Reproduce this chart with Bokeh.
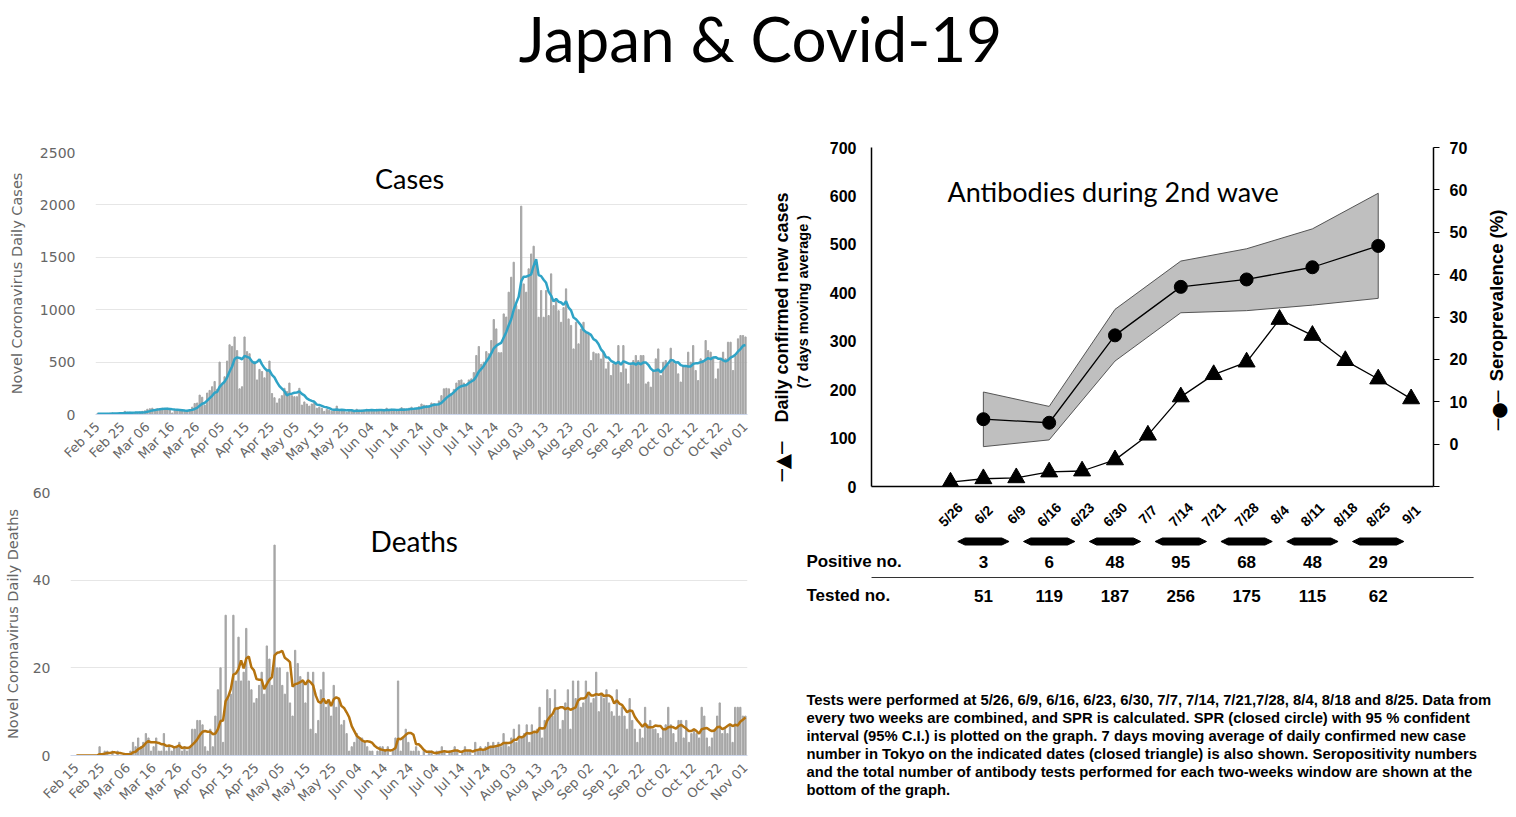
import math
import pandas as pd
from bokeh.plotting import figure
from bokeh.models import Range1d, LinearAxis, FixedTicker, Label
from bokeh.layouts import column, row
from bokeh.embed import file_html
from bokeh.resources import INLINE
from bokeh.core.properties import value

# ---------------- data ----------------
case_tick_labels = ["Feb 15", "Feb 25", "Mar 06", "Mar 16", "Mar 26", "Apr 05", "Apr 15",
                    "Apr 25", "May 05", "May 15", "May 25", "Jun 04", "Jun 14", "Jun 24",
                    "Jul 04", "Jul 14", "Jul 24", "Aug 03", "Aug 13", "Aug 23", "Sep 02",
                    "Sep 12", "Sep 22", "Oct 02", "Oct 12", "Oct 22", "Nov 01"]

daily_cases = [
    8, 5, 6, 8, 10, 12, 14, 10, 12, 15, 14, 30, 20, 22, 12,
    14, 18, 25, 30, 35, 50, 55, 60, 40, 55, 55, 60, 55, 60, 50,
    15, 40, 45, 40, 35, 40, 35, 45, 70, 105, 110, 185, 165, 90, 205, 230,
    265, 315, 240, 500, 280, 360, 510, 665, 650, 740, 610, 245, 265, 740, 600, 580,
    500, 500, 330, 430, 410, 350, 420, 510, 200, 160, 110, 150, 180, 250, 220,
    300, 180, 170, 170, 250, 90, 120, 100, 80, 100, 110, 60, 70, 60, 30,
    50, 40, 30, 40, 80, 30, 40, 35, 21, 40, 35, 30, 50, 40, 40,
    35, 50, 45, 40, 30, 50, 45, 35, 45, 60, 40, 50, 40, 30, 45,
    65, 55, 50, 60, 70, 40, 60, 75, 100, 90, 85, 80, 110, 105, 90,
    130, 180, 245, 250, 245, 200, 240, 300, 324, 330, 300, 280, 330, 340, 400,
    563, 649, 480, 500, 600, 580, 706, 906, 817, 590, 590, 960, 930, 1167, 1310,
    1453, 1040, 1000, 1988, 1246, 1167, 1390, 1532, 1606, 1437, 928, 1183, 928, 1183, 944,
    1342, 1040, 1103, 990, 880, 1020, 1199, 912, 850, 626, 880, 674, 815, 880, 785,
    769, 515, 595, 580, 580, 530, 595, 435, 500, 372, 483, 483, 658, 400, 658,
    435, 292, 470, 515, 563, 515, 563, 563, 292, 310, 261, 420, 531, 626, 372,
    499, 515, 467, 633, 499, 483, 388, 310, 467, 467, 595, 499, 658, 420, 324,
    531, 515, 706, 610, 595, 531, 340, 435, 515, 595, 531, 690, 690, 420, 563,
    722, 754, 754, 740]

daily_deaths = [
    0, 0, 0, 0, 0, 0, 0, 0, 0, 2, 0, 1, 1, 0, 1,
    0, 1, 0, 0, 0, 0, 1, 3, 2, 4, 2, 3, 5, 4, 1,
    2, 4, 1, 1, 5, 1, 2, 1, 2, 2, 3, 1, 2, 1, 2,
    6, 6, 8, 8, 7, 2, 1, 6, 2, 9, 15, 20, 3, 32, 13,
    14, 32, 17, 27, 17, 19, 29, 17, 15, 12, 13, 16, 19, 14, 25,
    22, 16, 48, 20, 20, 16, 14, 19, 12, 9, 24, 21, 18, 17, 12,
    19, 6, 19, 5, 8, 15, 19, 11, 12, 9, 16, 11, 13, 7, 8,
    5, 1, 2, 3, 5, 4, 4, 3, 2, 1, 1, 0, 1, 2, 2,
    1, 2, 0, 1, 4, 17, 1, 4, 6, 3, 1, 1, 2, 1, 0,
    1, 0, 1, 1, 0, 1, 1, 2, 1, 0, 1, 1, 2, 1, 0,
    1, 2, 1, 1, 0, 3, 1, 2, 1, 2, 3, 2, 3, 2, 3,
    2, 5, 3, 2, 4, 6, 3, 7, 4, 5, 7, 3, 7, 5, 6,
    11, 4, 8, 15, 13, 9, 15, 11, 6, 8, 12, 15, 6, 17, 13,
    17, 11, 12, 17, 14, 12, 13, 19, 10, 14, 13, 15, 12, 10, 9,
    15, 9, 11, 9, 6, 13, 8, 6, 3, 6, 4, 11, 7, 8, 6,
    6, 5, 4, 6, 7, 11, 7, 5, 3, 8, 8, 4, 8, 3, 5,
    6, 5, 4, 11, 9, 4, 2, 4, 6, 9, 12, 5, 6, 5, 7,
    3, 11, 11, 11, 9, 9]

ab_dates = ["5/26", "6/2", "6/9", "6/16", "6/23", "6/30", "7/7", "7/14", "7/21",
            "7/28", "8/4", "8/11", "8/18", "8/25", "9/1"]
tokyo_new_cases_ma = [9, 16, 18, 30, 32, 55, 106, 185, 231, 257, 345, 312, 260, 222, 181]
window_dates = ["6/2", "6/16", "6/30", "7/14", "7/28", "8/11", "8/25"]
positive_no = [3, 6, 48, 95, 68, 48, 29]
tested_no = [51, 119, 187, 256, 175, 115, 62]
ci_upper = [12.3, 8.9, 31.8, 43.2, 46.1, 50.8, 59.2]
ci_lower = [-0.6, 1.0, 19.6, 31.0, 31.5, 32.8, 34.4]

note_lines = [
    "Tests were performed at 5/26, 6/9, 6/16, 6/23, 6/30, 7/7, 7/14, 7/21,7/28, 8/4, 8/18 and 8/25.  Data from",
    "every two weeks are combined, and SPR is calculated. SPR (closed circle) with 95 % confident",
    "interval (95% C.I.) is plotted on the graph. 7 days moving average of daily confirmed new case",
    "number in Tokyo on the indicated dates (closed triangle) is also shown. Seropositivity numbers",
    "and the total number of antibody tests performed for each two-weeks window are shown at the",
    "bottom of the graph.",
]

# ---------------- derived ----------------
days = list(range(len(daily_cases)))
cases_ma = pd.Series(daily_cases).rolling(7, min_periods=1).mean().tolist()
deaths_ma = pd.Series(daily_deaths).rolling(7, min_periods=1).mean().tolist()
tick_pos = [10 * i for i in range(len(case_tick_labels))]
spr = [100.0 * a / b for a, b in zip(positive_no, tested_no)]
ab_x = list(range(len(ab_dates)))
win_x = [ab_dates.index(d) for d in window_dates]

HC_FONT = "DejaVu Sans"
SLIDE_FONT = "Lato"
ARIAL = "Liberation Sans"
GREY = "#666666"


def bare(p):
    p.axis.visible = False
    p.grid.visible = False
    p.outline_line_color = None


def hc_style(p, yticks, ylabel, label_standoff):
    p.outline_line_color = None
    p.xgrid.grid_line_color = None
    p.ygrid.grid_line_color = "#e6e6e6"
    p.yaxis.ticker = FixedTicker(ticks=yticks)
    p.yaxis.axis_line_color = None
    p.yaxis.major_tick_line_color = None
    p.yaxis.major_tick_out = 0
    p.yaxis.major_tick_in = 0
    p.yaxis.minor_tick_line_color = None
    p.yaxis.major_label_standoff = 20
    p.yaxis.major_label_text_font = HC_FONT
    p.yaxis.major_label_text_font_size = "14px"
    p.yaxis.major_label_text_color = GREY
    p.yaxis.axis_label = ylabel
    p.yaxis.axis_label_text_font = HC_FONT
    p.yaxis.axis_label_text_font_style = "normal"
    p.yaxis.axis_label_text_font_size = "14.5px"
    p.yaxis.axis_label_text_color = GREY
    p.yaxis.axis_label_standoff = label_standoff
    p.xaxis.ticker = FixedTicker(ticks=tick_pos)
    p.xaxis.major_label_overrides = {t: l for t, l in zip(tick_pos, case_tick_labels)}
    p.xaxis.major_label_orientation = math.pi / 4
    p.xaxis.major_label_text_font = HC_FONT
    p.xaxis.major_label_text_font_size = "13px"
    p.xaxis.major_label_text_color = GREY
    p.xaxis.major_label_standoff = 4
    p.xaxis.axis_line_color = "#ccd6eb"
    p.xaxis.major_tick_line_color = None
    p.xaxis.minor_tick_line_color = None


common = dict(output_backend="svg", toolbar_location=None, frame_align=False)

# ---------------- title ----------------
tp = figure(width=1512, height=128, x_range=Range1d(0, 1512), y_range=Range1d(128, 0),
            min_border=0, **common)
bare(tp)
tp.text(x=[760], y=[37], text=["Japan & Covid-19"], text_font=value(SLIDE_FONT),
        text_font_size="62px", text_align="center", text_baseline="middle", text_color="black")

# ---------------- cases ----------------
pc = figure(width=760, height=348, x_range=Range1d(-0.8, 260.8), y_range=Range1d(0, 2500),
            min_border_left=95, min_border_right=13, min_border_top=24, min_border_bottom=62,
            **common)
hc_style(pc, [0, 500, 1000, 1500, 2000, 2500], "Novel Coronavirus Daily Cases", 12)
pc.vbar(x=days, top=daily_cases, width=0.5, color="#a6a6a6")
pc.line(days, cases_ma, color="#2fa3c6", line_width=2.5)
pc.add_layout(Label(x=125.2, y=2252, text="Cases", text_font=SLIDE_FONT, text_font_size="27px",
                    text_align="center", text_baseline="middle", text_color="black"))

# ---------------- deaths ----------------
pd_ = figure(width=760, height=336, x_range=Range1d(-2.3, 260.8), y_range=Range1d(0, 60),
             min_border_left=70, min_border_right=13, min_border_top=16, min_border_bottom=55,
             **common)
hc_style(pd_, [0, 20, 40, 60], "Novel Coronavirus Daily Deaths", 9)
pd_.vbar(x=days, top=daily_deaths, width=0.5, color="#a6a6a6")
pd_.line(days, deaths_ma, color="#b5730f", line_width=2.5)
pd_.add_layout(Label(x=131.3, y=48.9, text="Deaths", text_font=SLIDE_FONT, text_font_size="28px",
                     text_align="center", text_baseline="middle", text_color="black"))

# ---------------- antibodies: left label strip ----------------
sl = figure(width=55, height=368, x_range=Range1d(760, 815), y_range=Range1d(496, 128),
            min_border=0, **common)
bare(sl)
sl.text(x=[781], y=[307], text=["Daily confirmed new cases"], angle=math.pi / 2,
        text_font=value(ARIAL), text_font_style="bold", text_font_size="18px",
        text_align="center", text_baseline="middle", text_color="black")
sl.text(x=[802], y=[299], text=["(7 days moving  average )"], angle=math.pi / 2,
        text_font=value(ARIAL), text_font_style="bold", text_font_size="14.5px",
        text_align="center", text_baseline="middle", text_color="black")
sl.text(x=[781], y=[461], text=["\u2500\u25b2\u2500"], angle=math.pi / 2,
        text_font=value("DejaVu Sans"), text_font_size="20px",
        text_align="center", text_baseline="middle", text_color="black")

# ---------------- antibodies: chart ----------------
pa = figure(width=665, height=368, x_range=Range1d(-2.4, 14.68), y_range=Range1d(0, 700),
            min_border_left=56, min_border_right=47, min_border_top=19, min_border_bottom=10,
            **common)
pa.extra_y_ranges = {"spr": Range1d(-10, 70)}
pa.outline_line_color = None
pa.grid.visible = False
pa.yaxis.ticker = FixedTicker(ticks=list(range(0, 701, 100)))
pa.yaxis.axis_line_color = "black"
pa.yaxis.axis_line_width = 1.5
pa.yaxis.major_tick_line_color = None
pa.yaxis.major_tick_out = 0
pa.yaxis.major_tick_in = 0
pa.yaxis.minor_tick_line_color = None
pa.yaxis.major_label_standoff = 15
pa.yaxis.major_label_text_font = ARIAL
pa.yaxis.major_label_text_font_style = "bold"
pa.yaxis.major_label_text_font_size = "16px"
pa.yaxis.major_label_text_color = "black"
pa.xaxis.ticker = FixedTicker(ticks=[])
pa.xaxis.axis_line_color = "black"
pa.xaxis.axis_line_width = 1.5
pa.xaxis.major_tick_line_color = None
pa.xaxis.minor_tick_line_color = None
pa.xaxis.major_label_text_font_size = "0px"

ax_r = LinearAxis(y_range_name="spr", ticker=FixedTicker(ticks=list(range(-10, 71, 10))),
                  major_label_overrides={-10: ""})
ax_r.axis_line_color = "black"
ax_r.axis_line_width = 1.5
ax_r.major_tick_line_color = "black"
ax_r.major_tick_out = 6
ax_r.major_tick_in = 0
ax_r.minor_tick_line_color = None
ax_r.major_label_standoff = 10
ax_r.major_label_text_font = ARIAL
ax_r.major_label_text_font_style = "bold"
ax_r.major_label_text_font_size = "16px"
ax_r.major_label_text_color = "black"
pa.add_layout(ax_r, "right")

pa.patch(win_x + win_x[::-1], ci_upper + ci_lower[::-1], y_range_name="spr",
         fill_color="#bfbfbf", line_color="#555555", line_width=1)
pa.line(win_x, spr, y_range_name="spr", color="black", line_width=1.3)
pa.scatter(win_x, spr, y_range_name="spr", marker="circle", size=13, color="black")
pa.line(ab_x, tokyo_new_cases_ma, color="black", line_width=1.3)
pa.scatter(ab_x, tokyo_new_cases_ma, marker="triangle", size=17, color="black")
pa.add_layout(Label(x=4.95, y=609, text="Antibodies during 2nd wave", text_font=SLIDE_FONT,
                    text_font_size="27px", text_align="center", text_baseline="middle",
                    text_color="black"))

# ---------------- antibodies: right label strip ----------------
sr = figure(width=32, height=368, x_range=Range1d(1480, 1512), y_range=Range1d(496, 128),
            min_border=0, **common)
bare(sr)
sr.text(x=[1496], y=[295], text=["Seroprevalence (%)"], angle=math.pi / 2,
        text_font=value(ARIAL), text_font_style="bold", text_font_size="18.5px",
        text_align="center", text_baseline="middle", text_color="black")
sr.text(x=[1497], y=[410], text=["\u2500\u25cf\u2500"], angle=math.pi / 2,
        text_font=value("DejaVu Sans"), text_font_size="19px",
        text_align="center", text_baseline="middle", text_color="black")

# ---------------- table + note ----------------
pt = figure(width=752, height=316, x_range=Range1d(-5.775, 17.082), y_range=Range1d(812, 496),
            min_border=0, **common)
bare(pt)
pt.text(x=ab_x, y=[514] * len(ab_x), text=ab_dates, angle=math.pi / 4,
        text_font=value(ARIAL), text_font_style="bold", text_font_size="14px",
        text_align="center", text_baseline="middle", text_color="black")
hw, tip, hh, yb = 0.78, 0.22, 3.5, 541
pt.patches([[x - hw, x - hw + tip, x + hw - tip, x + hw, x + hw - tip, x - hw + tip] for x in win_x],
           [[yb, yb - hh, yb - hh, yb, yb + hh, yb + hh] for _ in win_x], color="black")
pt.text(x=[-4.38, -4.38], y=[561, 595], text=["Positive no.", "Tested no."],
        text_font=value(ARIAL), text_font_style="bold", text_font_size="17px",
        text_align="left", text_baseline="middle", text_color="black")
pt.text(x=win_x, y=[561] * len(win_x), text=[str(v) for v in positive_no],
        text_font=value(ARIAL), text_font_style="bold", text_font_size="17px",
        text_align="center", text_baseline="middle", text_color="black")
pt.text(x=win_x, y=[595] * len(win_x), text=[str(v) for v in tested_no],
        text_font=value(ARIAL), text_font_style="bold", text_font_size="17px",
        text_align="center", text_baseline="middle", text_color="black")
pt.segment(x0=[-2.4], y0=[577], x1=[15.9], y1=[577], color="#333333", line_width=1)
pt.text(x=[-4.38] * len(note_lines), y=[699 + 18 * i for i in range(len(note_lines))],
        text=note_lines, text_font=value(ARIAL), text_font_style="bold",
        text_font_size="14.8px", text_align="left", text_baseline="middle", text_color="black")

layout = column(tp, row(column(pc, pd_), column(row(sl, pa, sr), pt)))
open("out.html", "w").write(file_html(layout, INLINE))
